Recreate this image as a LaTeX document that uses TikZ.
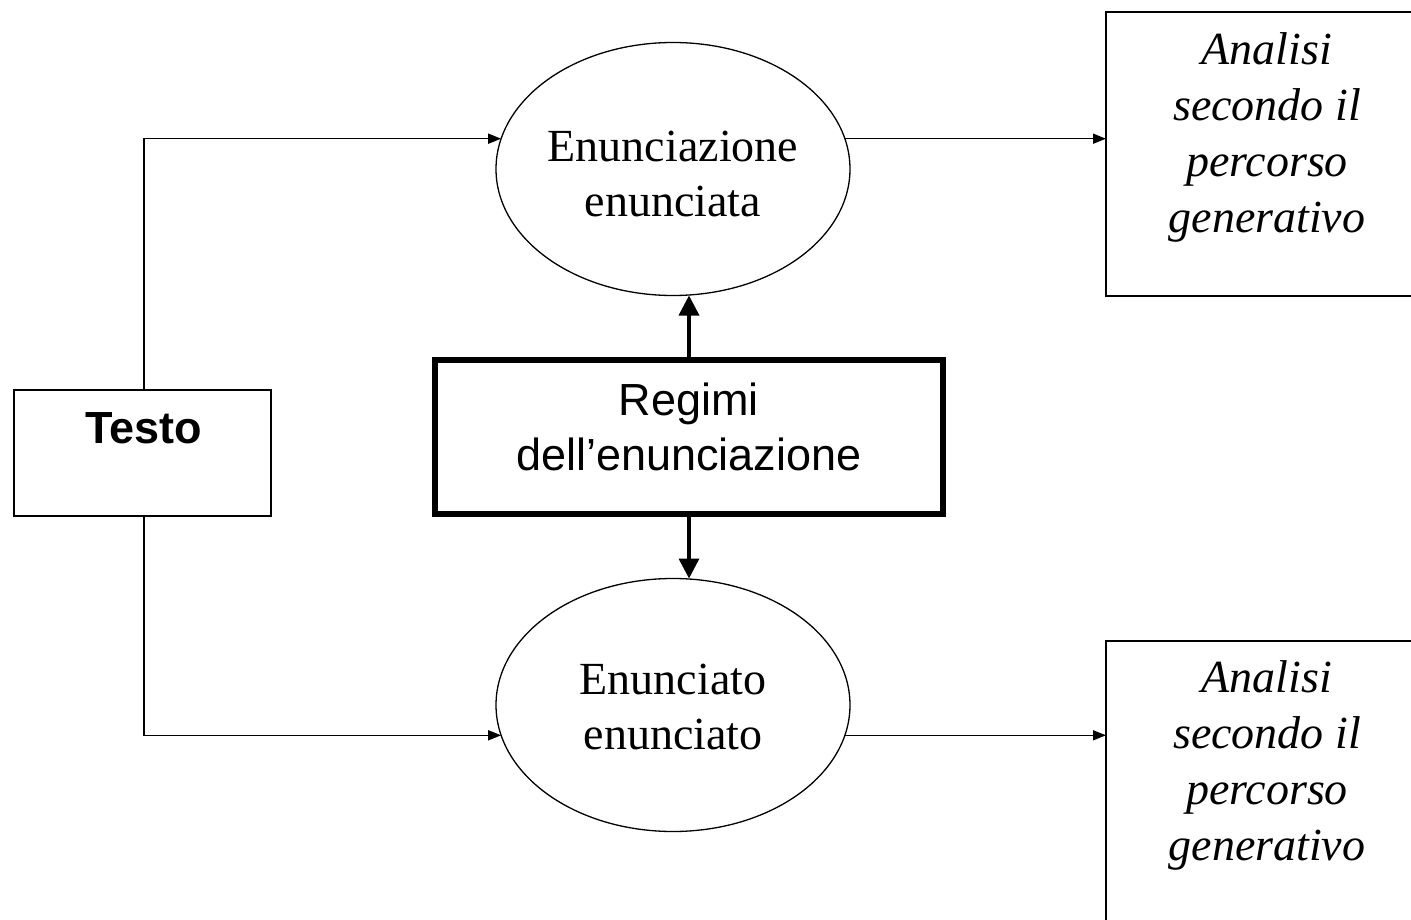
\documentclass[tikz,border=0pt]{standalone}
\usepackage{fontspec}
\setmainfont{Liberation Serif}
\setsansfont{Liberation Sans}
\usetikzlibrary{arrows.meta,shapes.geometric,calc}
\begin{document}
\begin{tikzpicture}[x=1pt,y=-1pt,
  thinbox/.style={draw, line width=1.6pt, inner sep=0pt, outer sep=0pt},
  oval/.style={draw, ellipse, line width=1.3pt, inner sep=0pt, outer sep=0pt, minimum width=354pt, minimum height=253pt},
  serif46/.style={font=\fontsize{46}{55}\selectfont, align=center, inner sep=0pt},
  ital46/.style={font=\fontsize{46}{56}\selectfont\itshape, align=center, inner sep=0pt},
  sans46/.style={font=\sffamily\fontsize{45}{55}\selectfont, align=center, inner sep=0pt},
  thinarrow/.style={line width=1.5pt, -{Triangle[length=13pt,width=10pt]}},
  thickarrow/.style={line width=3.5pt, -{Triangle[length=20pt,width=20pt]}}
]
\useasboundingbox (0,0) rectangle (1411,920);
\clip (0,0) rectangle (1411,920);
\fill[white] (0,0) rectangle (1411,920);

% Testo
\node[thinbox, minimum width=257pt, minimum height=126pt] (t) at (142.5,453) {};
\node[font=\sffamily\bfseries\fontsize{45}{54}\selectfont, inner sep=0pt] (tt) at (143.5,428) {Testo};

% ellipses
\node[oval] (e1) at (673,169) {};
\node[serif46] (e1t) at (673,174) {Enunciazione\\enunciata};
\node[oval] (e2) at (673,705) {};
\node[serif46] (e2t) at (673,707) {Enunciato\\enunciato};

% Regimi
\node[draw, line width=6pt, inner sep=0pt, outer sep=0pt, minimum width=508pt, minimum height=154pt] (reg) at (689,436.5) {};
\node[sans46] (regt) at (689,427) {Regimi\\dell’enunciazione};

% right boxes
\node[thinbox, minimum width=320pt, minimum height=284pt, anchor=north west] (r1) at (1106,12) {};
\node[ital46] (r1t) at (1267,137) {Analisi\\secondo il\\percorso\\generativo};
\node[thinbox, minimum width=320pt, minimum height=300pt, anchor=north west] (r2) at (1106,641) {};
\node[ital46] (r2t) at (1267,765) {Analisi\\secondo il\\percorso\\generativo};

% connectors
\draw[thinarrow] (t.north -| 144,0) |- (e1.170);
\draw[thinarrow] (t.south -| 144,0) |- (e2.190);
\draw[thinarrow] (e1.10) -- (e1.10 -| r1.west);
\draw[thinarrow] (e2.350) -- (e2.350 -| r2.west);
\draw[thickarrow] (reg.north) -- (reg.north |- e1.south);
\draw[thickarrow] (reg.south) -- (reg.south |- e2.north);
\end{tikzpicture}
\end{document}
